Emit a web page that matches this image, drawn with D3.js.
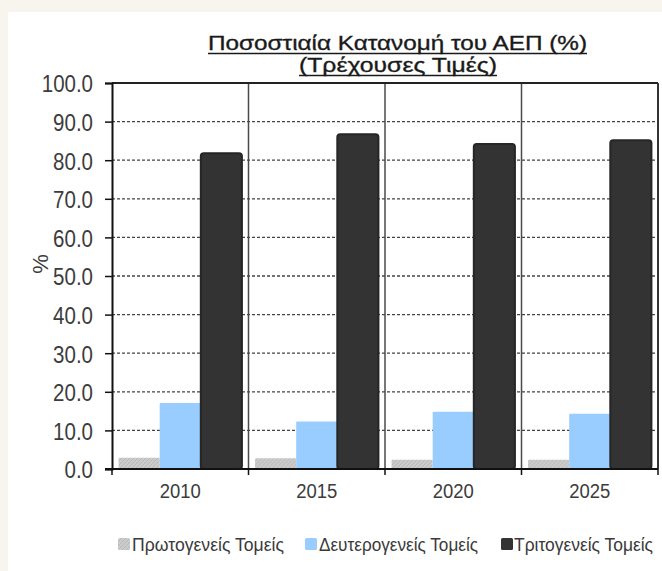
<!DOCTYPE html>
<html>
<head>
<meta charset="utf-8">
<script src="https://cdn.jsdelivr.net/npm/d3@7"></script>
<style>
  html, body { margin: 0; padding: 0; background: #f8f5ee; }
  svg { display: block; }
  text { font-family: "Liberation Sans", Arial, sans-serif; }
</style>
</head>
<body>
<svg id="chart" width="662" height="571"></svg>
<script>
// ---- data ----
const years = ["2010", "2015", "2020", "2025"];
const seriesNames = ["Πρωτογενείς  Τομείς", "Δευτερογενείς Τομείς", "Τριτογενείς  Τομείς"];
const primary   = [2.9, 2.8, 2.4, 2.4];
const secondary = [17.1, 12.3, 14.8, 14.3];
const tertiary  = [81.8, 86.7, 84.2, 85.2];
const yTicks = [0, 10, 20, 30, 40, 50, 60, 70, 80, 90, 100];
const titleLines = ["Ποσοστιαία Κατανομή του ΑΕΠ (%)", "(Τρέχουσες Τιμές)"];
const yAxisLabel = "%";

const seriesValues = [primary, secondary, tertiary];
const colors = ["url(#hatch)", "#99ccff", "#333333"];
const legendSwatch = ["#c4c4c4", "#99ccff", "#333333"];

const svg = d3.select("#chart");

// defs: hatch for primary sector
const defs = svg.append("defs");
const pat = defs.append("pattern").attr("id", "hatch").attr("patternUnits", "userSpaceOnUse")
  .attr("width", 4).attr("height", 4);
pat.append("rect").attr("width", 4).attr("height", 4).attr("fill", "#cbcbcb");
pat.append("path").attr("d", "M0,4 L4,0 M-1,1 L1,-1 M3,5 L5,3").attr("stroke", "#b8b8b8").attr("stroke-width", 1);

// white panel
svg.append("rect").attr("x", 8).attr("y", 12).attr("width", 654).attr("height", 559).attr("fill", "#ffffff");

const pL = 112, pR = 658, pT = 83, pB = 469;
const x = d3.scaleBand().domain(years).range([pL, pR]).padding(0);
const xs = d3.scaleBand().domain(d3.range(seriesNames.length)).range([0, x.bandwidth()])
  .paddingInner(0).paddingOuter(0.16).align(0.5);
const y = d3.scaleLinear().domain([0, 100]).range([pB, pT]);

// dashed gridlines
svg.append("g").selectAll("line").data(yTicks.filter(t => t > 0 && t < 100)).join("line")
  .attr("x1", pL).attr("x2", pR).attr("y1", d => y(d)).attr("y2", d => y(d))
  .attr("stroke", "#444").attr("stroke-width", 1.3).attr("stroke-dasharray", "3,2");

// vertical separators
svg.append("g").selectAll("line").data(years.slice(1)).join("line")
  .attr("x1", d => x(d)).attr("x2", d => x(d)).attr("y1", pT).attr("y2", pB)
  .attr("stroke", "#4a4a4a").attr("stroke-width", 1.5);

// bars
const groups = svg.append("g").selectAll("g").data(years).join("g")
  .attr("transform", d => `translate(${x(d)},0)`);
groups.selectAll("rect").data((d, i) => seriesValues.map((s, k) => ({k, v: s[i]}))).join("rect")
  .attr("x", d => xs(d.k))
  .attr("width", xs.bandwidth())
  .attr("y", d => y(d.v))
  .attr("height", d => y(0) - y(d.v))
  .attr("fill", d => colors[d.k])
  .attr("stroke", d => d.k === 2 ? "#262626" : "none")
  .attr("stroke-width", d => d.k === 2 ? 2 : 0)
  .attr("rx", d => d.k === 2 ? 3 : 1);

// frame
svg.append("line").attr("x1", pL).attr("x2", pR).attr("y1", pT).attr("y2", pT)
  .attr("stroke", "#222").attr("stroke-width", 2);
svg.append("line").attr("x1", pR).attr("x2", pR).attr("y1", pT).attr("y2", pB)
  .attr("stroke", "#333").attr("stroke-width", 2);

// y axis
const yAxis = svg.append("g").attr("transform", `translate(${pL},0)`)
  .call(d3.axisLeft(y).tickValues(yTicks).tickSize(7).tickPadding(0).tickFormat(d3.format(".1f")));
yAxis.select(".domain").attr("stroke", "#111").attr("stroke-width", 2);
yAxis.selectAll(".tick line").attr("stroke", "#111").attr("stroke-width", 1.5);
yAxis.selectAll(".tick text").each(function(d) {
  const t = d3.select(this);
  t.attr("x", null).attr("dy", null).attr("text-anchor", "end")
   .attr("transform", `translate(-19,8.8) scale(1,1.2)`)
   .attr("font-size", 20.5).attr("fill", "#3c3c3c").attr("font-family", "'Liberation Sans', Arial, sans-serif");
});

// x axis
const xAxis = svg.append("g").attr("transform", `translate(0,${pB})`)
  .call(d3.axisBottom(x).tickSize(0).tickPadding(0));
xAxis.select(".domain").remove();
svg.append("line").attr("x1", pL - 7).attr("x2", pR).attr("y1", pB).attr("y2", pB)
  .attr("stroke", "#111").attr("stroke-width", 2);
svg.append("g").selectAll("line").data(years.map(d => x(d)).concat([pR])).join("line")
  .attr("x1", d => d).attr("x2", d => d).attr("y1", pB).attr("y2", pB + 6)
  .attr("stroke", "#111").attr("stroke-width", 1.5);
xAxis.selectAll(".tick text").each(function() {
  d3.select(this).attr("y", null).attr("dy", null)
    .attr("transform", "translate(0,28.5) scale(1,1.12)")
    .attr("font-size", 18.5).attr("fill", "#3c3c3c").attr("font-family", "'Liberation Sans', Arial, sans-serif");
});

// y axis label
svg.append("text").attr("transform", "translate(48,264) rotate(-90)")
  .attr("text-anchor", "middle").attr("font-size", 22).attr("fill", "#3c3c3c").text(yAxisLabel);

// title
const titleSpec = [{y: 50, x0: 208, x1: 587, uy: 53.5}, {y: 72, x0: 299, x1: 497, uy: 75.5}];
titleLines.forEach((t, i) => {
  const s = titleSpec[i];
  svg.append("text").attr("x", (s.x0 + s.x1) / 2).attr("y", s.y).attr("text-anchor", "middle")
    .attr("font-size", 21).attr("font-weight", "normal").attr("fill", "#1a1a1a")
    .attr("stroke", "#1a1a1a").attr("stroke-width", 0.35)
    .attr("textLength", s.x1 - s.x0).attr("lengthAdjust", "spacingAndGlyphs").text(t);
  svg.append("line").attr("x1", s.x0).attr("x2", s.x1).attr("y1", s.uy).attr("y2", s.uy)
    .attr("stroke", "#1a1a1a").attr("stroke-width", 1.3);
});

// legend
const legendPos = [{sx: 118, tx: 132, tw: 152}, {sx: 305, tx: 319, tw: 159}, {sx: 501, tx: 514, tw: 139}];
seriesNames.forEach((n, i) => {
  const p = legendPos[i];
  svg.append("rect").attr("x", p.sx).attr("y", 538).attr("width", 12).attr("height", 12).attr("rx", 1.5)
    .attr("fill", i === 0 ? "url(#hatch)" : legendSwatch[i]);
  svg.append("text").attr("transform", `translate(${p.tx},550.5) scale(1,1.1)`).attr("font-size", 16.5).attr("fill", "#3a3a3a")
    .attr("textLength", p.tw).attr("lengthAdjust", "spacingAndGlyphs").text(n);
});
</script>
</body>
</html>
